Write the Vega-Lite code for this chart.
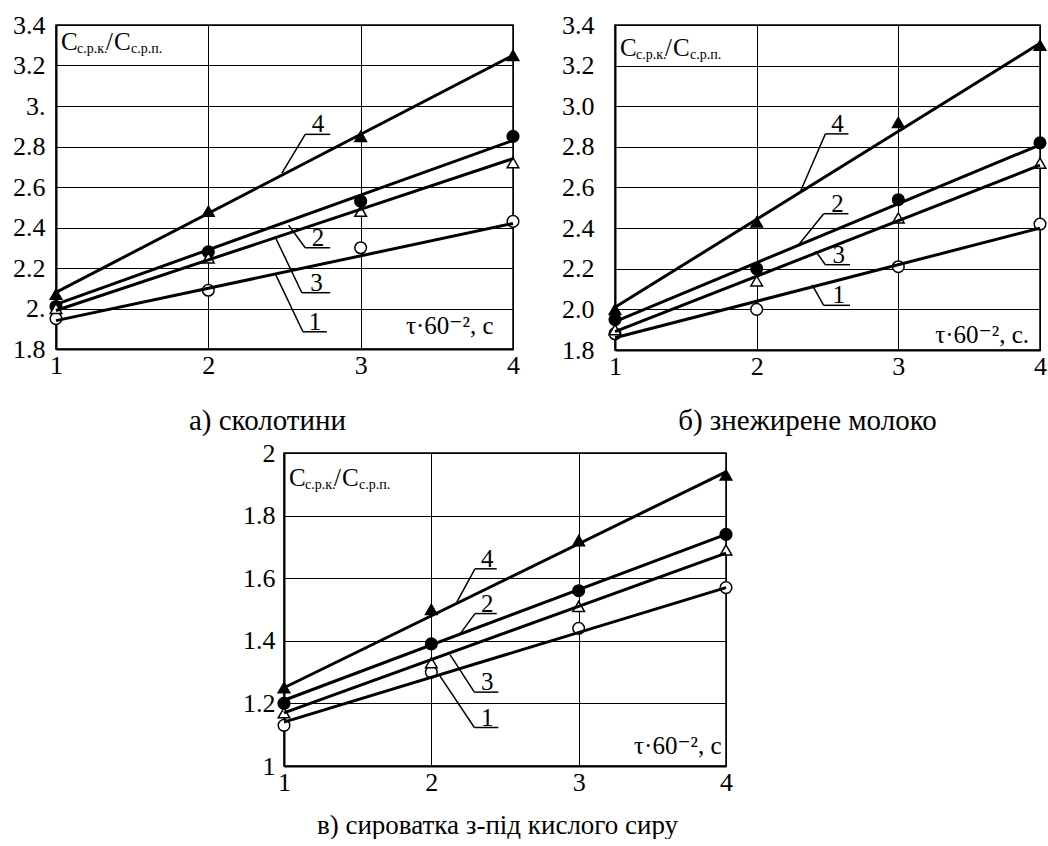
{
  "$schema": "https://vega.github.io/schema/vega-lite/v6.json",
  "background": "white",
  "padding": {"left": 11, "top": 11, "right": 0, "bottom": 0},
  "datasets": {
    "pts": [
      {"panel": "a", "s": "1", "x": 1, "y": 1.95}, {"panel": "a", "s": "1", "x": 2, "y": 2.09}, {"panel": "a", "s": "1", "x": 3, "y": 2.30}, {"panel": "a", "s": "1", "x": 4, "y": 2.43},
      {"panel": "a", "s": "2", "x": 1, "y": 2.01}, {"panel": "a", "s": "2", "x": 2, "y": 2.28}, {"panel": "a", "s": "2", "x": 3, "y": 2.53}, {"panel": "a", "s": "2", "x": 4, "y": 2.85},
      {"panel": "a", "s": "3", "x": 1, "y": 2.00}, {"panel": "a", "s": "3", "x": 2, "y": 2.25}, {"panel": "a", "s": "3", "x": 3, "y": 2.48}, {"panel": "a", "s": "3", "x": 4, "y": 2.72},
      {"panel": "a", "s": "4", "x": 1, "y": 2.07}, {"panel": "a", "s": "4", "x": 2, "y": 2.48}, {"panel": "a", "s": "4", "x": 3, "y": 2.85}, {"panel": "a", "s": "4", "x": 4, "y": 3.25},
      {"panel": "b", "s": "1", "x": 1, "y": 1.88}, {"panel": "b", "s": "1", "x": 2, "y": 2.00}, {"panel": "b", "s": "1", "x": 3, "y": 2.21}, {"panel": "b", "s": "1", "x": 4, "y": 2.42},
      {"panel": "b", "s": "2", "x": 1, "y": 1.95}, {"panel": "b", "s": "2", "x": 2, "y": 2.20}, {"panel": "b", "s": "2", "x": 3, "y": 2.54}, {"panel": "b", "s": "2", "x": 4, "y": 2.82},
      {"panel": "b", "s": "3", "x": 1, "y": 1.90}, {"panel": "b", "s": "3", "x": 2, "y": 2.14}, {"panel": "b", "s": "3", "x": 3, "y": 2.45}, {"panel": "b", "s": "3", "x": 4, "y": 2.72},
      {"panel": "b", "s": "4", "x": 1, "y": 2.00}, {"panel": "b", "s": "4", "x": 2, "y": 2.43}, {"panel": "b", "s": "4", "x": 3, "y": 2.92}, {"panel": "b", "s": "4", "x": 4, "y": 3.30},
      {"panel": "c", "s": "1", "x": 1, "y": 1.13}, {"panel": "c", "s": "1", "x": 2, "y": 1.30}, {"panel": "c", "s": "1", "x": 3, "y": 1.44}, {"panel": "c", "s": "1", "x": 4, "y": 1.57},
      {"panel": "c", "s": "2", "x": 1, "y": 1.20}, {"panel": "c", "s": "2", "x": 2, "y": 1.39}, {"panel": "c", "s": "2", "x": 3, "y": 1.56}, {"panel": "c", "s": "2", "x": 4, "y": 1.74},
      {"panel": "c", "s": "3", "x": 1, "y": 1.17}, {"panel": "c", "s": "3", "x": 2, "y": 1.33}, {"panel": "c", "s": "3", "x": 3, "y": 1.51}, {"panel": "c", "s": "3", "x": 4, "y": 1.69},
      {"panel": "c", "s": "4", "x": 1, "y": 1.25}, {"panel": "c", "s": "4", "x": 2, "y": 1.50}, {"panel": "c", "s": "4", "x": 3, "y": 1.72}, {"panel": "c", "s": "4", "x": 4, "y": 1.93}
    ],
    "fits": [
      {"panel": "a", "s": "1", "x": 1, "y": 1.94}, {"panel": "a", "s": "1", "x": 4, "y": 2.42},
      {"panel": "a", "s": "2", "x": 1, "y": 2.02}, {"panel": "a", "s": "2", "x": 4, "y": 2.83},
      {"panel": "a", "s": "3", "x": 1, "y": 1.99}, {"panel": "a", "s": "3", "x": 4, "y": 2.74},
      {"panel": "a", "s": "4", "x": 1, "y": 2.08}, {"panel": "a", "s": "4", "x": 4, "y": 3.25},
      {"panel": "b", "s": "1", "x": 1, "y": 1.86}, {"panel": "b", "s": "1", "x": 4, "y": 2.40},
      {"panel": "b", "s": "2", "x": 1, "y": 1.94}, {"panel": "b", "s": "2", "x": 4, "y": 2.81},
      {"panel": "b", "s": "3", "x": 1, "y": 1.89}, {"panel": "b", "s": "3", "x": 4, "y": 2.71},
      {"panel": "b", "s": "4", "x": 1, "y": 2.01}, {"panel": "b", "s": "4", "x": 4, "y": 3.31},
      {"panel": "c", "s": "1", "x": 1, "y": 1.14}, {"panel": "c", "s": "1", "x": 4, "y": 1.57},
      {"panel": "c", "s": "2", "x": 1, "y": 1.21}, {"panel": "c", "s": "2", "x": 4, "y": 1.74},
      {"panel": "c", "s": "3", "x": 1, "y": 1.17}, {"panel": "c", "s": "3", "x": 4, "y": 1.68},
      {"panel": "c", "s": "4", "x": 1, "y": 1.25}, {"panel": "c", "s": "4", "x": 4, "y": 1.94}
    ],
    "lbl": [
      {"panel": "a", "s": "4", "xt": 2.72, "xu1": 2.636, "xu2": 2.80, "yu": 2.860, "xl": 2.483, "yl": 2.668},
      {"panel": "a", "s": "2", "xt": 2.72, "xu1": 2.636, "xu2": 2.80, "yu": 2.300, "xl": 2.527, "yl": 2.412},
      {"panel": "a", "s": "3", "xt": 2.71, "xu1": 2.614, "xu2": 2.80, "yu": 2.078, "xl": 2.439, "yl": 2.353},
      {"panel": "a", "s": "1", "xt": 2.70, "xu1": 2.621, "xu2": 2.778, "yu": 1.885, "xl": 2.439, "yl": 2.172},
      {"panel": "b", "s": "4", "xt": 2.57, "xu1": 2.485, "xu2": 2.648, "yu": 2.864, "xl": 2.311, "yl": 2.584},
      {"panel": "b", "s": "2", "xt": 2.57, "xu1": 2.473, "xu2": 2.648, "yu": 2.471, "xl": 2.288, "yl": 2.311},
      {"panel": "b", "s": "3", "xt": 2.58, "xu1": 2.485, "xu2": 2.659, "yu": 2.220, "xl": 2.416, "yl": 2.287},
      {"panel": "b", "s": "1", "xt": 2.58, "xu1": 2.473, "xu2": 2.659, "yu": 2.020, "xl": 2.392, "yl": 2.121},
      {"panel": "c", "s": "4", "xt": 2.38, "xu1": 2.296, "xu2": 2.444, "yu": 1.630, "xl": 2.172, "yl": 1.523},
      {"panel": "c", "s": "2", "xt": 2.38, "xu1": 2.296, "xu2": 2.444, "yu": 1.487, "xl": 2.184, "yl": 1.415},
      {"panel": "c", "s": "3", "xt": 2.38, "xu1": 2.292, "xu2": 2.455, "yu": 1.236, "xl": 2.127, "yl": 1.356},
      {"panel": "c", "s": "1", "xt": 2.38, "xu1": 2.292, "xu2": 2.455, "yu": 1.123, "xl": 2.059, "yl": 1.287}
    ],
    "ylab": [
      {"panel": "a", "x": 1, "y": 3.277},
      {"panel": "b", "x": 1, "y": 3.247},
      {"panel": "c", "x": 1, "y": 1.893}
    ],
    "xlab": [
      {"panel": "a", "x": 3.873, "y": 1.873, "t": "τ·60⁻², с"},
      {"panel": "b", "x": 3.923, "y": 1.833, "t": "τ·60⁻², с."},
      {"panel": "c", "x": 3.971, "y": 1.037, "t": "τ·60⁻², с"}
    ]
  },
  "spacing": 3,
  "resolve": {"scale": {"x": "independent", "y": "independent"}},
  "vconcat": [
    {
      "hconcat": [
        {
          "width": 457, "height": 324,
          "layer": [
            {
              "data": {"name": "pts"}, "transform": [{"filter": "datum.panel == 'a'"}],
              "mark": {"type": "point", "filled": true, "stroke": "black", "strokeWidth": 1.5, "size": 135, "opacity": 1, "clip": false},
              "encoding": {
                "x": {"field": "x", "type": "quantitative", "scale": {"domain": [1, 4], "nice": false, "zero": false},
                      "axis": {"values": [1, 2, 3, 4], "format": "d", "labelPadding": 3, "title": "а) сколотини", "titleFontSize": 29, "titleX": 211, "titleY": 80, "titleAlign": "center", "titleBaseline": "alphabetic"}},
                "y": {"field": "y", "type": "quantitative", "scale": {"domain": [1.8, 3.4], "nice": false, "zero": false},
                      "axis": {"values": [1.8, 2.0, 2.2, 2.4, 2.6, 2.8, 3.0, 3.2, 3.4], "labelExpr": "datum.value == 3 ? '3.' : datum.value == 2 ? '2.' : format(datum.value, '.1f')", "labelPadding": 11, "title": null}},
                "shape": {"field": "s", "type": "nominal", "scale": {"domain": ["1", "2", "3", "4"], "range": ["circle", "circle", "triangle-up", "triangle-up"]}, "legend": null},
                "fill": {"field": "s", "type": "nominal", "scale": {"domain": ["1", "2", "3", "4"], "range": ["white", "black", "white", "black"]}, "legend": null}
              }
            },
            {
              "data": {"name": "fits"}, "transform": [{"filter": "datum.panel == 'a'"}],
              "mark": {"type": "line", "color": "black", "strokeWidth": 3, "clip": false},
              "encoding": {
                "x": {"field": "x", "type": "quantitative", "scale": {"domain": [1, 4], "nice": false, "zero": false}},
                "y": {"field": "y", "type": "quantitative", "scale": {"domain": [1.8, 3.4], "nice": false, "zero": false}},
                "detail": {"field": "s", "type": "nominal"}
              }
            },
            {
              "data": {"name": "lbl"}, "transform": [{"filter": "datum.panel == 'a'"}],
              "mark": {"type": "rule", "color": "black", "strokeWidth": 1.5},
              "encoding": {
                "x": {"field": "xu1", "type": "quantitative", "scale": {"domain": [1, 4], "nice": false, "zero": false}},
                "x2": {"field": "xu2"},
                "y": {"field": "yu", "type": "quantitative", "scale": {"domain": [1.8, 3.4], "nice": false, "zero": false}}
              }
            },
            {
              "data": {"name": "lbl"}, "transform": [{"filter": "datum.panel == 'a'"}],
              "mark": {"type": "rule", "color": "black", "strokeWidth": 1.5},
              "encoding": {
                "x": {"field": "xu1", "type": "quantitative", "scale": {"domain": [1, 4], "nice": false, "zero": false}},
                "x2": {"field": "xl"},
                "y": {"field": "yu", "type": "quantitative", "scale": {"domain": [1.8, 3.4], "nice": false, "zero": false}},
                "y2": {"field": "yl"}
              }
            },
            {
              "data": {"name": "lbl"}, "transform": [{"filter": "datum.panel == 'a'"}],
              "mark": {"type": "text", "fontSize": 25, "baseline": "alphabetic", "align": "center", "dy": -2},
              "encoding": {
                "x": {"field": "xt", "type": "quantitative", "scale": {"domain": [1, 4], "nice": false, "zero": false}},
                "y": {"field": "yu", "type": "quantitative", "scale": {"domain": [1.8, 3.4], "nice": false, "zero": false}},
                "text": {"field": "s"}
              }
            },
            {
              "data": {"name": "ylab"}, "transform": [{"filter": "datum.panel == 'a'"}],
              "layer": [
                {"mark": {"type": "text", "text": "С", "fontSize": 25, "align": "left", "baseline": "alphabetic", "dx": 5}},
                {"mark": {"type": "text", "text": "с.р.к.", "fontSize": 14, "align": "left", "baseline": "alphabetic", "dx": 21, "dy": 3}},
                {"mark": {"type": "text", "text": "/", "fontSize": 25, "align": "left", "baseline": "alphabetic", "dx": 50}},
                {"mark": {"type": "text", "text": "С", "fontSize": 25, "align": "left", "baseline": "alphabetic", "dx": 58}},
                {"mark": {"type": "text", "text": "с.р.п.", "fontSize": 14, "align": "left", "baseline": "alphabetic", "dx": 75, "dy": 3}}
              ],
              "encoding": {
                "x": {"field": "x", "type": "quantitative", "scale": {"domain": [1, 4], "nice": false, "zero": false}},
                "y": {"field": "y", "type": "quantitative", "scale": {"domain": [1.8, 3.4], "nice": false, "zero": false}}
              }
            },
            {
              "data": {"name": "xlab"}, "transform": [{"filter": "datum.panel == 'a'"}],
              "mark": {"type": "text", "fontSize": 25, "align": "right", "baseline": "alphabetic"},
              "encoding": {
                "x": {"field": "x", "type": "quantitative", "scale": {"domain": [1, 4], "nice": false, "zero": false}},
                "y": {"field": "y", "type": "quantitative", "scale": {"domain": [1.8, 3.4], "nice": false, "zero": false}},
                "text": {"field": "t"}
              }
            }
          ]
        },
        {
          "width": 425, "height": 325,
          "layer": [
            {
              "data": {"name": "pts"}, "transform": [{"filter": "datum.panel == 'b'"}],
              "mark": {"type": "point", "filled": true, "stroke": "black", "strokeWidth": 1.5, "size": 135, "opacity": 1, "clip": false},
              "encoding": {
                "x": {"field": "x", "type": "quantitative", "scale": {"domain": [1, 4], "nice": false, "zero": false},
                      "axis": {"values": [1, 2, 3, 4], "format": "d", "labelPadding": 3, "title": "б) знежирене молоко", "titleFontSize": 29, "titleX": 192, "titleY": 79, "titleAlign": "center", "titleBaseline": "alphabetic"}},
                "y": {"field": "y", "type": "quantitative", "scale": {"domain": [1.8, 3.4], "nice": false, "zero": false},
                      "axis": {"values": [1.8, 2.0, 2.2, 2.4, 2.6, 2.8, 3.0, 3.2, 3.4], "format": ".1f", "labelPadding": 21, "title": null}},
                "shape": {"field": "s", "type": "nominal", "scale": {"domain": ["1", "2", "3", "4"], "range": ["circle", "circle", "triangle-up", "triangle-up"]}, "legend": null},
                "fill": {"field": "s", "type": "nominal", "scale": {"domain": ["1", "2", "3", "4"], "range": ["white", "black", "white", "black"]}, "legend": null}
              }
            },
            {
              "data": {"name": "fits"}, "transform": [{"filter": "datum.panel == 'b'"}],
              "mark": {"type": "line", "color": "black", "strokeWidth": 3, "clip": false},
              "encoding": {
                "x": {"field": "x", "type": "quantitative", "scale": {"domain": [1, 4], "nice": false, "zero": false}},
                "y": {"field": "y", "type": "quantitative", "scale": {"domain": [1.8, 3.4], "nice": false, "zero": false}},
                "detail": {"field": "s", "type": "nominal"}
              }
            },
            {
              "data": {"name": "lbl"}, "transform": [{"filter": "datum.panel == 'b'"}],
              "mark": {"type": "rule", "color": "black", "strokeWidth": 1.5},
              "encoding": {
                "x": {"field": "xu1", "type": "quantitative", "scale": {"domain": [1, 4], "nice": false, "zero": false}},
                "x2": {"field": "xu2"},
                "y": {"field": "yu", "type": "quantitative", "scale": {"domain": [1.8, 3.4], "nice": false, "zero": false}}
              }
            },
            {
              "data": {"name": "lbl"}, "transform": [{"filter": "datum.panel == 'b'"}],
              "mark": {"type": "rule", "color": "black", "strokeWidth": 1.5},
              "encoding": {
                "x": {"field": "xu1", "type": "quantitative", "scale": {"domain": [1, 4], "nice": false, "zero": false}},
                "x2": {"field": "xl"},
                "y": {"field": "yu", "type": "quantitative", "scale": {"domain": [1.8, 3.4], "nice": false, "zero": false}},
                "y2": {"field": "yl"}
              }
            },
            {
              "data": {"name": "lbl"}, "transform": [{"filter": "datum.panel == 'b'"}],
              "mark": {"type": "text", "fontSize": 25, "baseline": "alphabetic", "align": "center", "dy": -2},
              "encoding": {
                "x": {"field": "xt", "type": "quantitative", "scale": {"domain": [1, 4], "nice": false, "zero": false}},
                "y": {"field": "yu", "type": "quantitative", "scale": {"domain": [1.8, 3.4], "nice": false, "zero": false}},
                "text": {"field": "s"}
              }
            },
            {
              "data": {"name": "ylab"}, "transform": [{"filter": "datum.panel == 'b'"}],
              "layer": [
                {"mark": {"type": "text", "text": "С", "fontSize": 25, "align": "left", "baseline": "alphabetic", "dx": 5}},
                {"mark": {"type": "text", "text": "с.р.к.", "fontSize": 14, "align": "left", "baseline": "alphabetic", "dx": 21, "dy": 3}},
                {"mark": {"type": "text", "text": "/", "fontSize": 25, "align": "left", "baseline": "alphabetic", "dx": 50}},
                {"mark": {"type": "text", "text": "С", "fontSize": 25, "align": "left", "baseline": "alphabetic", "dx": 58}},
                {"mark": {"type": "text", "text": "с.р.п.", "fontSize": 14, "align": "left", "baseline": "alphabetic", "dx": 75, "dy": 3}}
              ],
              "encoding": {
                "x": {"field": "x", "type": "quantitative", "scale": {"domain": [1, 4], "nice": false, "zero": false}},
                "y": {"field": "y", "type": "quantitative", "scale": {"domain": [1.8, 3.4], "nice": false, "zero": false}}
              }
            },
            {
              "data": {"name": "xlab"}, "transform": [{"filter": "datum.panel == 'b'"}],
              "mark": {"type": "text", "fontSize": 25, "align": "right", "baseline": "alphabetic"},
              "encoding": {
                "x": {"field": "x", "type": "quantitative", "scale": {"domain": [1, 4], "nice": false, "zero": false}},
                "y": {"field": "y", "type": "quantitative", "scale": {"domain": [1.8, 3.4], "nice": false, "zero": false}},
                "text": {"field": "t"}
              }
            }
          ]
        }
      ],
      "bounds": "flush",
      "spacing": 102,
      "resolve": {"scale": {"x": "independent", "y": "independent"}}
    },
    {
      "hconcat": [
        {
          "width": 200, "height": 10,
          "view": {"stroke": null},
          "data": {"values": []},
          "mark": {"type": "point", "opacity": 0},
          "encoding": {}
        },
        {
          "width": 442, "height": 313,
          "layer": [
            {
              "data": {"name": "pts"}, "transform": [{"filter": "datum.panel == 'c'"}],
              "mark": {"type": "point", "filled": true, "stroke": "black", "strokeWidth": 1.5, "size": 135, "opacity": 1, "clip": false},
              "encoding": {
                "x": {"field": "x", "type": "quantitative", "scale": {"domain": [1, 4], "nice": false, "zero": false},
                      "axis": {"values": [1, 2, 3, 4], "format": "d", "labelPadding": 3, "title": "в) сироватка з-під кислого сиру", "titleFontSize": 27, "titleX": 213, "titleY": 67, "titleAlign": "center", "titleBaseline": "alphabetic"}},
                "y": {"field": "y", "type": "quantitative", "scale": {"domain": [1, 2], "nice": false, "zero": false},
                      "axis": {"values": [1, 1.2, 1.4, 1.6, 1.8, 2], "format": "~g", "labelPadding": 9, "title": null}},
                "shape": {"field": "s", "type": "nominal", "scale": {"domain": ["1", "2", "3", "4"], "range": ["circle", "circle", "triangle-up", "triangle-up"]}, "legend": null},
                "fill": {"field": "s", "type": "nominal", "scale": {"domain": ["1", "2", "3", "4"], "range": ["white", "black", "white", "black"]}, "legend": null}
              }
            },
            {
              "data": {"name": "fits"}, "transform": [{"filter": "datum.panel == 'c'"}],
              "mark": {"type": "line", "color": "black", "strokeWidth": 3, "clip": false},
              "encoding": {
                "x": {"field": "x", "type": "quantitative", "scale": {"domain": [1, 4], "nice": false, "zero": false}},
                "y": {"field": "y", "type": "quantitative", "scale": {"domain": [1, 2], "nice": false, "zero": false}},
                "detail": {"field": "s", "type": "nominal"}
              }
            },
            {
              "data": {"name": "lbl"}, "transform": [{"filter": "datum.panel == 'c'"}],
              "mark": {"type": "rule", "color": "black", "strokeWidth": 1.5},
              "encoding": {
                "x": {"field": "xu1", "type": "quantitative", "scale": {"domain": [1, 4], "nice": false, "zero": false}},
                "x2": {"field": "xu2"},
                "y": {"field": "yu", "type": "quantitative", "scale": {"domain": [1, 2], "nice": false, "zero": false}}
              }
            },
            {
              "data": {"name": "lbl"}, "transform": [{"filter": "datum.panel == 'c'"}],
              "mark": {"type": "rule", "color": "black", "strokeWidth": 1.5},
              "encoding": {
                "x": {"field": "xu1", "type": "quantitative", "scale": {"domain": [1, 4], "nice": false, "zero": false}},
                "x2": {"field": "xl"},
                "y": {"field": "yu", "type": "quantitative", "scale": {"domain": [1, 2], "nice": false, "zero": false}},
                "y2": {"field": "yl"}
              }
            },
            {
              "data": {"name": "lbl"}, "transform": [{"filter": "datum.panel == 'c'"}],
              "mark": {"type": "text", "fontSize": 25, "baseline": "alphabetic", "align": "center", "dy": -2},
              "encoding": {
                "x": {"field": "xt", "type": "quantitative", "scale": {"domain": [1, 4], "nice": false, "zero": false}},
                "y": {"field": "yu", "type": "quantitative", "scale": {"domain": [1, 2], "nice": false, "zero": false}},
                "text": {"field": "s"}
              }
            },
            {
              "data": {"name": "ylab"}, "transform": [{"filter": "datum.panel == 'c'"}],
              "layer": [
                {"mark": {"type": "text", "text": "С", "fontSize": 25, "align": "left", "baseline": "alphabetic", "dx": 5}},
                {"mark": {"type": "text", "text": "с.р.к.", "fontSize": 14, "align": "left", "baseline": "alphabetic", "dx": 21, "dy": 3}},
                {"mark": {"type": "text", "text": "/", "fontSize": 25, "align": "left", "baseline": "alphabetic", "dx": 50}},
                {"mark": {"type": "text", "text": "С", "fontSize": 25, "align": "left", "baseline": "alphabetic", "dx": 58}},
                {"mark": {"type": "text", "text": "с.р.п.", "fontSize": 14, "align": "left", "baseline": "alphabetic", "dx": 75, "dy": 3}}
              ],
              "encoding": {
                "x": {"field": "x", "type": "quantitative", "scale": {"domain": [1, 4], "nice": false, "zero": false}},
                "y": {"field": "y", "type": "quantitative", "scale": {"domain": [1, 2], "nice": false, "zero": false}}
              }
            },
            {
              "data": {"name": "xlab"}, "transform": [{"filter": "datum.panel == 'c'"}],
              "mark": {"type": "text", "fontSize": 25, "align": "right", "baseline": "alphabetic"},
              "encoding": {
                "x": {"field": "x", "type": "quantitative", "scale": {"domain": [1, 4], "nice": false, "zero": false}},
                "y": {"field": "y", "type": "quantitative", "scale": {"domain": [1, 2], "nice": false, "zero": false}},
                "text": {"field": "t"}
              }
            }
          ]
        }
      ],
      "bounds": "flush",
      "spacing": 28,
      "resolve": {"scale": {"x": "independent", "y": "independent"}}
    }
  ],
  "config": {
    "font": "Liberation Serif, DejaVu Serif, serif",
    "view": {"stroke": "black", "strokeWidth": 1.5},
    "text": {"font": "Liberation Serif, DejaVu Serif, serif", "color": "black"},
    "axis": {
      "grid": true, "gridColor": "black", "gridOpacity": 1, "gridWidth": 1,
      "ticks": false, "tickSize": 0,
      "domainColor": "black", "domainWidth": 2,
      "labelFont": "Liberation Serif, DejaVu Serif, serif", "labelFontSize": 26, "labelColor": "black",
      "labelOverlap": false, "labelFlush": false, "labelBound": false,
      "titleFont": "Liberation Serif, DejaVu Serif, serif", "titleColor": "black", "titleFontWeight": "normal"
    }
  }
}
